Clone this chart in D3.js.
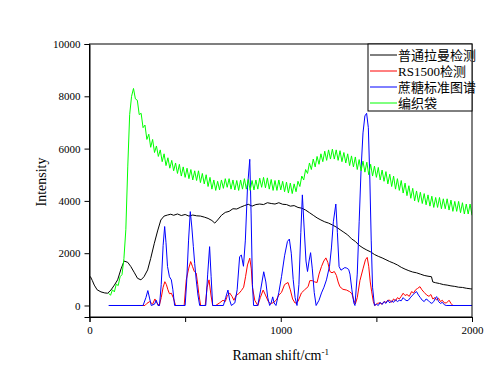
<!DOCTYPE html>
<html><head><meta charset="utf-8">
<script src="https://cdn.jsdelivr.net/npm/d3@7/dist/d3.min.js"></script>
<style>
body{margin:0;background:#fff;}
svg text{font-family:"Liberation Serif","Times New Roman","Noto Sans CJK SC",serif;}
</style></head>
<body><svg id="chart" width="500" height="382"></svg>
<script>
// ---- data ----
const seriesNames = ["普通拉曼检测", "RS1500检测", "蔗糖标准图谱", "编织袋"];
const seriesColors = ["#000000", "#ff0000", "#0000ff", "#00ff00"];
const xTicks = [0, 1000, 2000];
const xMinorTicks = [500, 1500];
const yTicks = [0, 2000, 4000, 6000, 8000, 10000];

// 普通拉曼检测 [shift, intensity]
const blackData = [[0,1120],[5,1100],[15,950],[25,780],[40,600],[60,520],[80,480],[95,470],[112,590],[130,780],[147,980],[165,1400],[181,1700],[200,1650],[216,1490],[235,1250],[251,1040],[269,980],[285,1100],[304,1360],[320,1800],[339,2380],[356,2850],[373,3270],[390,3420],[408,3460],[425,3490],[440,3450],[460,3500],[480,3440],[500,3480],[520,3420],[540,3460],[560,3430],[580,3420],[600,3380],[620,3330],[640,3250],[655,3150],[670,3270],[690,3450],[710,3560],[730,3600],[750,3700],[770,3690],[790,3760],[810,3820],[830,3870],[850,3800],[870,3860],[890,3880],[910,3860],[930,3930],[950,3900],[970,3880],[990,3930],[1010,3870],[1030,3860],[1050,3800],[1070,3820],[1090,3750],[1110,3720],[1130,3650],[1150,3550],[1170,3450],[1190,3350],[1210,3270],[1230,3200],[1250,3150],[1270,3080],[1290,3000],[1310,2900],[1330,2800],[1350,2700],[1370,2550],[1390,2450],[1410,2300],[1430,2200],[1450,2120],[1470,2050],[1490,1950],[1510,1880],[1530,1820],[1550,1750],[1570,1680],[1590,1620],[1610,1550],[1630,1460],[1650,1390],[1670,1330],[1690,1280],[1710,1250],[1730,1200],[1750,1150],[1770,1120],[1788,1100],[1795,900],[1810,870],[1830,840],[1850,800],[1870,780],[1890,750],[1910,730],[1930,700],[1950,690],[1970,660],[1990,640],[2000,630]];

// RS1500检测
const redData = [[250,0],[290,0],[300,80],[315,150],[330,50],[342,250],[352,100],[365,0],[375,300],[385,700],[394,910],[402,800],[410,600],[418,450],[428,470],[438,300],[450,0],[495,0],[506,980],[518,1400],[529,1680],[538,1500],[548,1300],[558,1240],[566,800],[571,470],[581,0],[605,0],[615,700],[625,980],[635,400],[644,0],[660,0],[680,100],[698,200],[710,150],[720,350],[733,480],[745,350],[755,200],[768,400],[780,450],[794,570],[806,700],[816,1100],[826,1550],[838,1810],[846,1400],[852,700],[864,200],[880,0],[893,300],[908,590],[920,400],[935,150],[945,80],[960,100],[977,210],[990,400],[1004,500],[1020,800],[1038,880],[1050,600],[1062,250],[1075,90],[1090,150],[1108,480],[1125,600],[1143,720],[1152,950],[1165,950],[1178,900],[1190,880],[1200,1200],[1213,1490],[1225,1700],[1236,1820],[1246,1650],[1257,1300],[1268,1250],[1280,1300],[1291,1150],[1300,900],[1309,720],[1325,620],[1344,590],[1360,530],[1372,450],[1382,200],[1390,60],[1400,300],[1414,950],[1430,1400],[1443,1750],[1452,1840],[1460,1500],[1468,900],[1475,550],[1484,150],[1492,0],[1505,80],[1518,100],[1530,50],[1540,150],[1550,120],[1560,200],[1571,200],[1580,120],[1590,250],[1600,180],[1610,300],[1620,250],[1630,350],[1640,470],[1650,380],[1660,420],[1672,350],[1684,530],[1695,480],[1705,600],[1715,650],[1728,720],[1738,600],[1750,500],[1763,400],[1775,350],[1785,420],[1795,250],[1805,300],[1815,210],[1825,280],[1835,150],[1845,200],[1855,100],[1867,100],[1880,200],[1890,80],[1900,0]];

// 蔗糖标准图谱
const blueData = [[100,0],[280,0],[295,300],[305,570],[315,250],[323,0],[340,50],[349,200],[358,0],[366,0],[375,800],[385,2300],[393,3020],[400,2400],[408,1490],[418,1100],[428,980],[436,600],[445,0],[500,0],[508,900],[518,2500],[527,3590],[535,3000],[543,2250],[550,1600],[558,980],[567,400],[576,0],[608,0],[618,1200],[628,2250],[636,1100],[644,0],[700,0],[712,300],[724,590],[733,200],[742,0],[760,100],[772,600],[785,1870],[794,1930],[805,1500],[815,2500],[826,4500],[838,5590],[845,3500],[852,800],[858,0],[880,0],[895,600],[911,1290],[922,900],[932,300],[942,0],[950,100],[958,330],[965,100],[975,0],[990,500],[1004,1100],[1020,1900],[1035,2450],[1045,2540],[1055,2000],[1065,1000],[1075,300],[1085,0],[1095,800],[1105,2800],[1113,4230],[1122,3000],[1132,1700],[1140,1300],[1148,1700],[1156,2020],[1165,1400],[1175,500],[1185,0],[1200,200],[1213,480],[1226,700],[1239,980],[1255,1500],[1265,2200],[1275,3200],[1288,3880],[1296,2800],[1305,1490],[1315,1350],[1325,1400],[1335,1450],[1345,1430],[1355,1380],[1362,1200],[1372,600],[1382,100],[1388,0],[1400,1200],[1410,3200],[1420,5200],[1430,6600],[1440,7250],[1449,7350],[1458,6800],[1466,4800],[1473,2500],[1480,700],[1490,0],[1500,50],[1510,0],[1520,120],[1530,40],[1540,150],[1550,80],[1560,200],[1570,100],[1580,180],[1590,120],[1600,220],[1610,150],[1620,200],[1630,180],[1640,300],[1650,220],[1660,180],[1667,200],[1680,320],[1690,400],[1700,480],[1710,530],[1720,400],[1730,300],[1740,200],[1750,150],[1760,250],[1770,200],[1780,120],[1790,80],[1800,150],[1810,300],[1815,340],[1825,150],[1835,80],[1845,120],[1855,30],[1865,0],[2000,0]];

// 编织袋: shifts 100..2000 every 10
const greenStart = 100, greenStep = 10;
const greenValues = [470,390,600,520,820,760,1100,1180,1800,2900,
5300,7300,8000,8300,7900,7850,7300,7350,6800,6900,
6350,6550,6050,6350,5850,6100,5700,5950,5500,5800,
5350,5650,5250,5550,5150,5450,5050,5400,4950,5300,
4900,5250,4850,5200,4800,5150,4780,5150,4700,5050,
4650,5000,4550,4900,4450,4800,4400,4750,4420,4800,
4480,4850,4520,4850,4450,4800,4420,4780,4400,4800,
4450,4850,4450,4820,4400,4780,4420,4800,4450,4870,
4520,4900,4500,4880,4450,4820,4400,4780,4400,4800,
4420,4750,4350,4720,4300,4680,4280,4650,4350,4750,
4550,4950,4800,5200,5050,5450,5200,5600,5300,5700,
5400,5800,5500,5900,5550,5950,5600,5980,5600,5950,
5550,5920,5500,5850,5450,5800,5350,5720,5300,5680,
5200,5580,5150,5520,5100,5480,5000,5400,4950,5330,
4900,5280,4800,5180,4750,5120,4650,5020,4550,4950,
4450,4850,4400,4780,4300,4680,4200,4580,4100,4480,
4000,4380,3950,4330,3900,4280,3850,4230,3800,4180,
3750,4130,3750,4130,3700,4080,3700,4080,3650,4030,
3600,3980,3600,3980,3550,3930,3500,3880,3500,3880,
3450];
const greenData = greenValues.map((v, i) => [greenStart + i * greenStep, v]);

// ---- chart ----
const svg = d3.select("#chart");
const L = 89.5, R = 472, T = 44, B = 317;
const x = d3.scaleLinear().domain([0, 2000]).range([L, R]);
const y = d3.scaleLinear().domain([-440, 10000]).range([B, T]);

const clip = svg.append("clipPath").attr("id", "clip")
  .append("rect").attr("x", L).attr("y", T).attr("width", R - L).attr("height", B - T);

const line = d3.line().x(d => x(d[0])).y(d => y(d[1]));
const plot = svg.append("g").attr("clip-path", "url(#clip)");
const all = [blackData, redData, blueData, greenData];
all.forEach((data, i) => {
  plot.append("path").datum(data)
    .attr("fill", "none").attr("stroke", seriesColors[i])
    .attr("stroke-width", 1).attr("stroke-linejoin", "round")
    .attr("d", line);
});

// frame
svg.append("rect").attr("x", L).attr("y", T).attr("width", R - L).attr("height", B - T)
  .attr("fill", "none").attr("stroke", "#000").attr("stroke-width", 1);

// x axis
const xAxis = svg.append("g").attr("transform", `translate(0,${B})`)
  .call(d3.axisBottom(x).tickValues(xTicks).tickSize(5).tickPadding(4).tickFormat(d3.format("d")));
svg.append("g").attr("transform", `translate(0,${B})`)
  .call(d3.axisBottom(x).tickValues(xMinorTicks).tickSize(5).tickFormat(""))
  .call(g => g.select(".domain").remove());
// y axis
const yAxis = svg.append("g").attr("transform", `translate(${L},0)`)
  .call(d3.axisLeft(y).tickValues(yTicks).tickSize(5).tickPadding(4).tickFormat(d3.format("d")));
svg.selectAll(".tick text").attr("font-size", 11).attr("fill", "#000")
  .style("font-family", '"Liberation Serif", serif');
svg.selectAll(".domain").attr("stroke", "#000");
svg.selectAll(".tick line").attr("stroke", "#000");

// axis titles
const xt = svg.append("text").attr("x", (L + R) / 2).attr("y", 360)
  .attr("text-anchor", "middle").attr("font-size", 14);
xt.append("tspan").text("Raman shift/cm");
xt.append("tspan").attr("dy", -5).attr("font-size", 9).text("-1");
svg.append("text").attr("transform", "translate(46,182) rotate(-90)")
  .attr("text-anchor", "middle").attr("font-size", 14).text("Intensity");

// legend
const lg = svg.append("g");
lg.append("rect").attr("x", 368).attr("y", T).attr("width", R - 368).attr("height", 67)
  .attr("fill", "#fff").attr("stroke", "#000").attr("stroke-width", 1);
seriesNames.forEach((name, i) => {
  const yy = 55 + i * 16;
  lg.append("line").attr("x1", 370).attr("x2", 397).attr("y1", yy).attr("y2", yy)
    .attr("stroke", seriesColors[i]).attr("stroke-width", 1);
  lg.append("text").attr("x", 398).attr("y", yy + 4.5).attr("font-size", 13)
    .style("font-family", '"Liberation Serif", "Noto Sans CJK SC", serif').text(name);
});
</script></body></html>
